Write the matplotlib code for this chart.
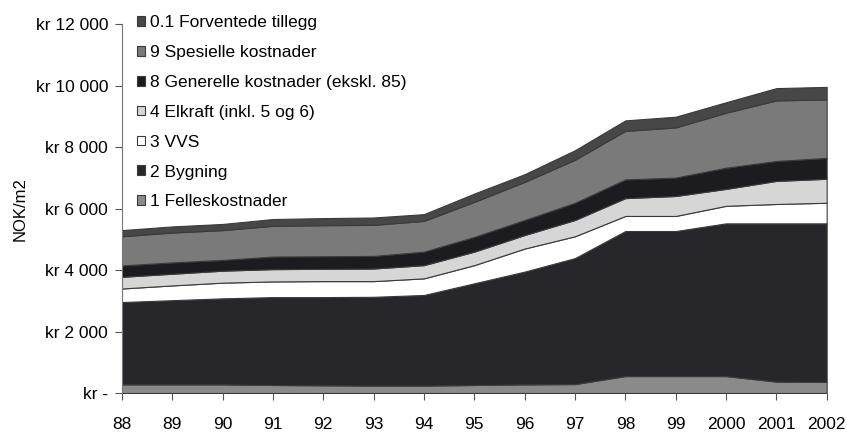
import matplotlib.pyplot as plt
import numpy as np

plt.rcParams['font.family'] = ['Liberation Sans', 'DejaVu Sans']

# år og kostnadsposter (NOK/m2), lest av figuren
years = ['88', '89', '90', '91', '92', '93', '94', '95', '96', '97',
         '98', '99', '2000', '2001', '2002']
felles = [280, 280, 280, 260, 250, 240, 240, 260, 280, 290, 550, 550, 550, 370, 360]
bygning = [2680, 2740, 2800, 2860, 2870, 2890, 2950, 3310, 3670, 4100, 4720, 4720, 4970, 5150, 5160]
vvs = [440, 480, 510, 510, 520, 510, 540, 590, 750, 710, 490, 490, 570, 630, 670]
elkraft = [380, 380, 390, 400, 400, 410, 430, 440, 440, 530, 580, 650, 550, 750, 780]
generelle = [370, 370, 350, 410, 410, 410, 440, 480, 490, 560, 610, 600, 690, 650, 680]
spesielle = [950, 970, 970, 1000, 1010, 1010, 1000, 1140, 1240, 1400, 1580, 1630, 1790, 1970, 1900]
forventede = [200, 200, 200, 220, 230, 240, 220, 270, 250, 310, 340, 350, 340, 400, 410]

labels = ['1 Felleskostnader', '2 Bygning', '3 VVS', '4 Elkraft (inkl. 5 og 6)',
          '8 Generelle kostnader (ekskl. 85)', '9 Spesielle kostnader',
          '0.1 Forventede tillegg']
colors = ['#8a8a8a', '#27272b', '#ffffff', '#d6d6d6', '#1c1c20', '#7a7a7a', '#474747']

ytick_vals = [0, 2000, 4000, 6000, 8000, 10000, 12000]
ytick_labels = ['kr -', 'kr 2 000', 'kr 4 000', 'kr 6 000', 'kr 8 000',
                'kr 10 000', 'kr 12 000']

fs = 12.5

fig = plt.figure(figsize=(8.47, 4.32), dpi=100)
ax = fig.add_axes([0.144, 0.0903, 0.832, 0.8537])

x = np.arange(len(years))
polys = ax.stackplot(x, felles, bygning, vvs, elkraft, generelle, spesielle, forventede,
                     colors=colors, edgecolor='#3a3a3a', linewidth=0.8)

ax.set_xlim(0, len(years) - 1)
ax.set_ylim(0, 12000)
ax.set_xticks(x)
ax.set_xticklabels(years, fontsize=fs)
ax.set_yticks(ytick_vals)
ax.set_yticklabels(ytick_labels, fontsize=fs)
ax.tick_params(axis='both', length=5, width=0.8, color='#555555')
ax.tick_params(axis='x', pad=12)
ax.tick_params(axis='y', pad=5)
ax.set_ylabel('NOK/m2', fontsize=12, labelpad=6)

for side in ['top', 'right', 'bottom']:
    ax.spines[side].set_visible(False)
ax.spines['left'].set_color('#777777')
ax.spines['left'].set_linewidth(0.8)

# legende i omvendt rekkefølge, øverst til venstre
leg = ax.legend(polys[::-1], labels[::-1], loc='upper left',
                bbox_to_anchor=(0.011, 1.044), frameon=False, fontsize=fs,
                handlelength=0.5, handleheight=0.5, handletextpad=0.25,
                labelspacing=0.86, borderaxespad=0)

fig.savefig('out.png', dpi=100)
